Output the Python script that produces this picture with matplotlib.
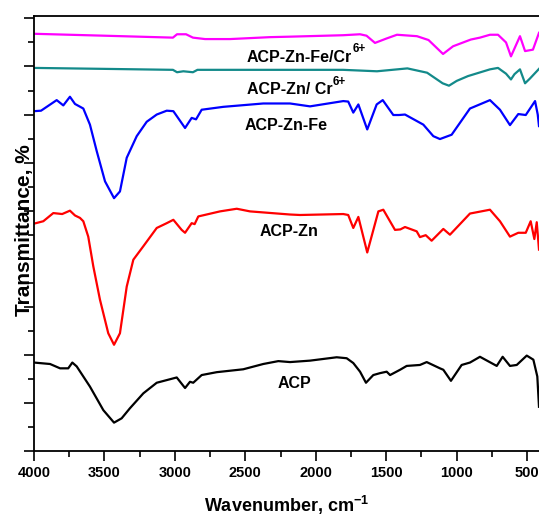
import matplotlib.pyplot as plt
from matplotlib.ticker import MultipleLocator

plt.rcParams['font.family'] = 'Liberation Sans'
plt.rcParams['font.weight'] = 'bold'
plt.rcParams['axes.labelweight'] = 'bold'
plt.rcParams['mathtext.fontset'] = 'custom'
plt.rcParams['mathtext.rm'] = 'Liberation Sans:bold'
plt.rcParams['mathtext.default'] = 'rm'

# Espectros FTIR (transmitancia desplazada, unidades arbitrarias)
acp_wn = [4000, 3886, 3815, 3757, 3728, 3697, 3603, 3508, 3432, 3378, 3319, 3224, 3129,
          2987, 2928, 2893, 2870, 2810, 2703, 2515, 2373, 2266, 2183, 2041, 1852, 1781,
          1734, 1686, 1644, 1592, 1544, 1497, 1473, 1402, 1355, 1261, 1213, 1119, 1095,
          1041, 965, 906, 835, 716, 674, 622, 574, 503, 456, 428, 416]
acp_t = [18.4, 18.1, 17.2, 17.2, 18.4, 17.6, 13.4, 8.5, 5.9, 6.8, 8.9, 12.0, 14.2,
         15.3, 13.1, 14.4, 14.2, 15.8, 16.4, 17.0, 18.1, 18.7, 18.5, 18.8, 19.5, 19.3,
         18.3, 16.5, 14.2, 15.8, 16.2, 16.5, 15.8, 16.9, 17.7, 17.9, 18.5, 17.2, 16.9,
         14.6, 17.9, 18.4, 19.6, 17.7, 19.6, 17.7, 17.9, 19.85, 19.0, 15.5, 9.2]

zn_wn = [4000, 3934, 3863, 3800, 3745, 3709, 3674, 3650, 3615, 3579, 3532, 3473, 3432,
         3390, 3342, 3295, 3224, 3129, 3058, 3011, 2952, 2928, 2881, 2860, 2834, 2680,
         2561, 2467, 2183, 2112, 1805, 1770, 1734, 1698, 1635, 1556, 1521, 1438, 1400,
         1367, 1284, 1261, 1220, 1178, 1095, 1048, 906, 764, 693, 622, 563, 510, 475,
         449, 432, 416]
zn_t = [47.3, 47.8, 49.5, 49.3, 50.0, 49.0, 48.5, 47.8, 44.6, 38.4, 31.5, 24.5, 22.1,
        24.5, 34.2, 39.8, 42.6, 46.4, 47.4, 48.1, 46.0, 45.4, 47.4, 47.2, 48.8, 49.85,
        50.4, 49.85, 49.2, 49.1, 49.3, 49.1, 46.4, 48.7, 41.3, 49.85, 50.2, 46.0, 46.1,
        46.6, 45.7, 44.5, 44.9, 43.75, 46.2, 45.0, 49.4, 50.2, 47.8, 44.6, 45.4, 45.4, 47.8,
        44.1, 47.6, 41.9]

znfe_wn = [4000, 3950, 3839, 3792, 3745, 3709, 3650, 3603, 3555, 3496, 3432, 3390, 3342,
           3271, 3200, 3129, 3058, 3011, 2928, 2881, 2850, 2810, 2657, 2373, 2183, 2041,
           1805, 1770, 1734, 1698, 1635, 1568, 1525, 1450, 1410, 1367, 1237, 1166, 1119,
           1036, 906, 764, 693, 622, 563, 510, 444, 425, 416]
znfe_t = [70.7, 70.8, 73.0, 71.9, 73.7, 72.2, 71.25, 67.9, 62.4, 56.1, 52.6, 54.0, 61.0,
          65.5, 68.5, 70.0, 70.8, 70.7, 67.2, 69.3, 69.0, 71.0, 71.6, 72.3, 72.3, 71.7,
          72.8, 72.7, 70.4, 72.1, 66.9, 72.1, 73.0, 69.9, 69.9, 70.0, 67.9, 65.5, 64.9,
          65.8, 71.25, 73.0, 71.0, 67.8, 70.1, 69.9, 72.8, 70.0, 67.6]

zncr_wn = [4000, 3500, 3014, 2985, 2940, 2872, 2840, 2500, 2183, 1807, 1566, 1350, 1210,
           1100, 1055, 1000, 920, 764, 707, 650, 615, 590, 551, 515, 480, 416]
zncr_t = [79.7, 79.5, 79.3, 78.8, 79.0, 78.8, 79.3, 79.3, 79.3, 79.3, 79.0, 79.6, 78.7,
          76.5, 76.0, 77.0, 78.0, 79.4, 79.7, 78.5, 77.3, 78.4, 79.4, 76.5, 77.5, 79.5]

znfecr_wn = [4000, 3500, 3014, 2985, 2921, 2872, 2786, 2609, 2325, 2183, 1807, 1686, 1640,
             1580, 1500, 1424, 1282, 1200, 1097, 1026, 900, 835, 764, 707, 650, 615, 551,
             515, 459, 416]
znfecr_t = [86.8, 86.4, 86.0, 86.7, 86.7, 86.0, 85.7, 85.7, 86.1, 86.2, 86.5, 86.7, 86.4,
            84.9, 85.8, 86.6, 86.3, 85.5, 82.6, 84.2, 85.6, 86.0, 86.6, 86.6, 85.0, 82.1, 86.3,
            83.2, 83.5, 87.0]

fig = plt.figure(figsize=(5.39, 5.16), dpi=100)
ax = fig.add_axes([34 / 539, 65 / 516, 505 / 539, 435 / 516])

lw = 1.6
ax.plot(acp_wn, acp_t, color='black', lw=lw)
ax.plot(zn_wn, zn_t, color='#ff0000', lw=lw)
ax.plot(znfe_wn, znfe_t, color='#0000ff', lw=lw)
ax.plot(zncr_wn, zncr_t, color='#138a8a', lw=lw)
ax.plot(znfecr_wn, znfecr_t, color='#ff00ff', lw=lw)

t1 = ax.text(2488, 81.0, 'ACP-Zn-Fe/Cr', fontsize=11.5, va='baseline')
t2 = ax.text(2488, 74.2, 'ACP-Zn/ Cr', fontsize=11.5, va='baseline')
# superindice 6+ pegado al final del texto
for t in [t1, t2]:
    ax.annotate('6+', xy=(1.0, 0.62), xycoords=t, fontsize=8.5, va='bottom', ha='left')
ax.text(2503, 66.7, 'ACP-Zn-Fe', fontsize=11.5, va='baseline')
ax.text(2396, 44.8, 'ACP-Zn', fontsize=11.5, va='baseline')
ax.text(2268, 13.1, 'ACP', fontsize=11.5, va='baseline')

ax.set_xlim(4000, 416)
ax.set_ylim(0, 90.5)
ax.xaxis.set_major_locator(MultipleLocator(500))
ax.xaxis.set_minor_locator(MultipleLocator(250))
ax.yaxis.set_major_locator(MultipleLocator(10))
ax.yaxis.set_minor_locator(MultipleLocator(5))
ax.tick_params(which='major', direction='out', length=7, width=1.2, labelsize=10.5, pad=4)
ax.tick_params(which='minor', direction='out', length=4, width=1.2)
ax.tick_params(axis='y', labelleft=False)
for lab in ax.get_xticklabels():
    lab.set_fontweight('bold')

for s in ['left', 'bottom', 'top']:
    ax.spines[s].set_linewidth(1.3)
ax.spines['right'].set_visible(False)

ax.set_xlabel('Wavenumber, cm$^{-1}$', fontsize=13)
ax.xaxis.set_label_coords(0.5, -0.140)
ax.xaxis.label.set_va('baseline')
ax.set_ylabel('Transmittance, %', fontsize=15, va='center')
ax.yaxis.set_label_coords(-0.018, 0.508)

fig.savefig('out.png', dpi=100)
